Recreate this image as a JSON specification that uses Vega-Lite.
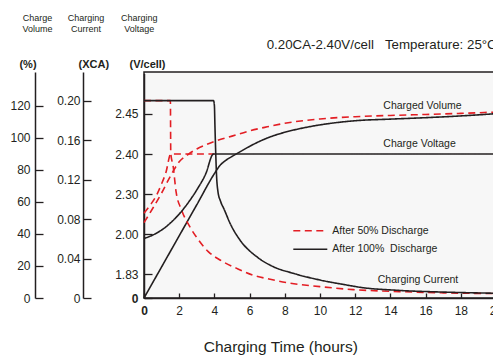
{
  "$schema": "https://vega.github.io/schema/vega-lite/v6.json",
  "width": 352,
  "height": 226,
  "autosize": {"type": "none"},
  "padding": {"left": 144, "top": 72, "right": 0, "bottom": 57},
  "background": "white",
  "config": {
    "view": {"stroke": "#231f20", "strokeWidth": 1.5, "fill": "#f7f7f7"},
    "font": "Liberation Sans",
    "axis": {
      "grid": false,
      "labelFont": "Liberation Sans",
      "titleFont": "Liberation Sans",
      "labelColor": "#231f20",
      "titleColor": "#231f20",
      "domainColor": "#231f20",
      "tickColor": "#231f20",
      "domainWidth": 1.5,
      "tickWidth": 1.3,
      "labelFlush": false,
      "labelOverlap": false
    }
  },
  "title": {
    "text": "0.20CA-2.40V/cell\u00a0\u00a0\u00a0Temperature: 25°C",
    "anchor": "start",
    "frame": "group",
    "dx": 122.7,
    "offset": 0,
    "dy": 49.5,
    "baseline": "alphabetic",
    "fontSize": 13.3,
    "fontWeight": "normal",
    "color": "#231f20",
    "font": "Liberation Sans"
  },
  "datasets": {
    "curves": [
      {"q": "volume", "d": "After 50% Discharge", "t": 0, "v": 47},
      {"q": "volume", "d": "After 50% Discharge", "t": 0.5, "v": 56},
      {"q": "volume", "d": "After 50% Discharge", "t": 1, "v": 65.5},
      {"q": "volume", "d": "After 50% Discharge", "t": 1.5, "v": 76},
      {"q": "volume", "d": "After 50% Discharge", "t": 2, "v": 85},
      {"q": "volume", "d": "After 50% Discharge", "t": 2.5, "v": 89.5},
      {"q": "volume", "d": "After 50% Discharge", "t": 3, "v": 93},
      {"q": "volume", "d": "After 50% Discharge", "t": 3.5, "v": 95.5},
      {"q": "volume", "d": "After 50% Discharge", "t": 4, "v": 97.7},
      {"q": "volume", "d": "After 50% Discharge", "t": 5, "v": 101},
      {"q": "volume", "d": "After 50% Discharge", "t": 6, "v": 104.3},
      {"q": "volume", "d": "After 50% Discharge", "t": 7, "v": 106.8},
      {"q": "volume", "d": "After 50% Discharge", "t": 8, "v": 109},
      {"q": "volume", "d": "After 50% Discharge", "t": 10, "v": 111.7},
      {"q": "volume", "d": "After 50% Discharge", "t": 12, "v": 113.1},
      {"q": "volume", "d": "After 50% Discharge", "t": 14, "v": 113.9},
      {"q": "volume", "d": "After 50% Discharge", "t": 16, "v": 114.5},
      {"q": "volume", "d": "After 50% Discharge", "t": 18, "v": 115.2},
      {"q": "volume", "d": "After 50% Discharge", "t": 20, "v": 116},
      {"q": "volume", "d": "After 100%\u00a0 Discharge", "t": 0, "v": 0},
      {"q": "volume", "d": "After 100%\u00a0 Discharge", "t": 1, "v": 19.4},
      {"q": "volume", "d": "After 100%\u00a0 Discharge", "t": 2, "v": 38.8},
      {"q": "volume", "d": "After 100%\u00a0 Discharge", "t": 3, "v": 58.2},
      {"q": "volume", "d": "After 100%\u00a0 Discharge", "t": 4, "v": 77.6},
      {"q": "volume", "d": "After 100%\u00a0 Discharge", "t": 4.3, "v": 82.5},
      {"q": "volume", "d": "After 100%\u00a0 Discharge", "t": 4.6, "v": 85.5},
      {"q": "volume", "d": "After 100%\u00a0 Discharge", "t": 5, "v": 88.3},
      {"q": "volume", "d": "After 100%\u00a0 Discharge", "t": 5.5, "v": 91.5},
      {"q": "volume", "d": "After 100%\u00a0 Discharge", "t": 6, "v": 94.6},
      {"q": "volume", "d": "After 100%\u00a0 Discharge", "t": 7, "v": 99.8},
      {"q": "volume", "d": "After 100%\u00a0 Discharge", "t": 8, "v": 103.4},
      {"q": "volume", "d": "After 100%\u00a0 Discharge", "t": 9, "v": 106},
      {"q": "volume", "d": "After 100%\u00a0 Discharge", "t": 10, "v": 108},
      {"q": "volume", "d": "After 100%\u00a0 Discharge", "t": 12, "v": 110.6},
      {"q": "volume", "d": "After 100%\u00a0 Discharge", "t": 14, "v": 111.6},
      {"q": "volume", "d": "After 100%\u00a0 Discharge", "t": 16, "v": 112.5},
      {"q": "volume", "d": "After 100%\u00a0 Discharge", "t": 18, "v": 113.6},
      {"q": "volume", "d": "After 100%\u00a0 Discharge", "t": 20, "v": 115},
      {"q": "current", "d": "After 50% Discharge", "t": 0, "v": 0.2},
      {"q": "current", "d": "After 50% Discharge", "t": 1.5, "v": 0.2},
      {"q": "current", "d": "After 50% Discharge", "t": 1.52, "v": 0.147},
      {"q": "current", "d": "After 50% Discharge", "t": 1.66, "v": 0.133},
      {"q": "current", "d": "After 50% Discharge", "t": 1.82, "v": 0.108},
      {"q": "current", "d": "After 50% Discharge", "t": 2.14, "v": 0.089},
      {"q": "current", "d": "After 50% Discharge", "t": 2.61, "v": 0.072},
      {"q": "current", "d": "After 50% Discharge", "t": 3.09, "v": 0.059},
      {"q": "current", "d": "After 50% Discharge", "t": 3.65, "v": 0.047},
      {"q": "current", "d": "After 50% Discharge", "t": 4.32, "v": 0.0385},
      {"q": "current", "d": "After 50% Discharge", "t": 5.27, "v": 0.03},
      {"q": "current", "d": "After 50% Discharge", "t": 6.21, "v": 0.023},
      {"q": "current", "d": "After 50% Discharge", "t": 7.16, "v": 0.019},
      {"q": "current", "d": "After 50% Discharge", "t": 8.11, "v": 0.0155},
      {"q": "current", "d": "After 50% Discharge", "t": 10, "v": 0.0115},
      {"q": "current", "d": "After 50% Discharge", "t": 11.9, "v": 0.0085},
      {"q": "current", "d": "After 50% Discharge", "t": 14.5, "v": 0.0065},
      {"q": "current", "d": "After 50% Discharge", "t": 17, "v": 0.0052},
      {"q": "current", "d": "After 50% Discharge", "t": 20, "v": 0.0045},
      {"q": "current", "d": "After 100%\u00a0 Discharge", "t": 0, "v": 0.2},
      {"q": "current", "d": "After 100%\u00a0 Discharge", "t": 3.95, "v": 0.2},
      {"q": "current", "d": "After 100%\u00a0 Discharge", "t": 4.0, "v": 0.195},
      {"q": "current", "d": "After 100%\u00a0 Discharge", "t": 4.03, "v": 0.175},
      {"q": "current", "d": "After 100%\u00a0 Discharge", "t": 4.07, "v": 0.15},
      {"q": "current", "d": "After 100%\u00a0 Discharge", "t": 4.12, "v": 0.125},
      {"q": "current", "d": "After 100%\u00a0 Discharge", "t": 4.2, "v": 0.108},
      {"q": "current", "d": "After 100%\u00a0 Discharge", "t": 4.35, "v": 0.098},
      {"q": "current", "d": "After 100%\u00a0 Discharge", "t": 4.55, "v": 0.09},
      {"q": "current", "d": "After 100%\u00a0 Discharge", "t": 4.89, "v": 0.0757},
      {"q": "current", "d": "After 100%\u00a0 Discharge", "t": 5.45, "v": 0.0588},
      {"q": "current", "d": "After 100%\u00a0 Discharge", "t": 6.4, "v": 0.0419},
      {"q": "current", "d": "After 100%\u00a0 Discharge", "t": 7.35, "v": 0.0317},
      {"q": "current", "d": "After 100%\u00a0 Discharge", "t": 8.48, "v": 0.025},
      {"q": "current", "d": "After 100%\u00a0 Discharge", "t": 10, "v": 0.0182},
      {"q": "current", "d": "After 100%\u00a0 Discharge", "t": 11.5, "v": 0.0132},
      {"q": "current", "d": "After 100%\u00a0 Discharge", "t": 12.3, "v": 0.0108},
      {"q": "current", "d": "After 100%\u00a0 Discharge", "t": 14.4, "v": 0.0078},
      {"q": "current", "d": "After 100%\u00a0 Discharge", "t": 17, "v": 0.006},
      {"q": "current", "d": "After 100%\u00a0 Discharge", "t": 20, "v": 0.0048},
      {"q": "voltage", "d": "After 50% Discharge", "t": 0, "v": 2.158},
      {"q": "voltage", "d": "After 50% Discharge", "t": 0.36, "v": 2.22},
      {"q": "voltage", "d": "After 50% Discharge", "t": 0.72, "v": 2.295},
      {"q": "voltage", "d": "After 50% Discharge", "t": 1.0, "v": 2.326},
      {"q": "voltage", "d": "After 50% Discharge", "t": 1.25, "v": 2.355},
      {"q": "voltage", "d": "After 50% Discharge", "t": 1.52, "v": 2.4},
      {"q": "voltage", "d": "After 50% Discharge", "t": 4, "v": 2.4},
      {"q": "voltage", "d": "After 100%\u00a0 Discharge", "t": 0, "v": 1.982},
      {"q": "voltage", "d": "After 100%\u00a0 Discharge", "t": 0.5, "v": 1.997},
      {"q": "voltage", "d": "After 100%\u00a0 Discharge", "t": 1, "v": 2.032},
      {"q": "voltage", "d": "After 100%\u00a0 Discharge", "t": 1.5, "v": 2.085},
      {"q": "voltage", "d": "After 100%\u00a0 Discharge", "t": 2, "v": 2.152},
      {"q": "voltage", "d": "After 100%\u00a0 Discharge", "t": 2.5, "v": 2.235},
      {"q": "voltage", "d": "After 100%\u00a0 Discharge", "t": 3, "v": 2.311},
      {"q": "voltage", "d": "After 100%\u00a0 Discharge", "t": 3.5, "v": 2.35},
      {"q": "voltage", "d": "After 100%\u00a0 Discharge", "t": 3.95, "v": 2.4},
      {"q": "voltage", "d": "After 100%\u00a0 Discharge", "t": 20, "v": 2.4}
    ],
    "notes": [
      {"label": "Charged Volume", "t": 13.6, "v": 119.8},
      {"label": "Charge Voltage", "t": 13.6, "v": 95.9},
      {"label": "Charging Current", "t": 13.28, "v": 11.2}
    ]
  },
  "data": {"name": "curves"},
  "encoding": {
    "x": {
      "field": "t",
      "type": "quantitative",
      "scale": {"domain": [0, 20], "nice": false, "zero": false},
      "axis": {
        "orient": "bottom",
        "values": [0, 2, 4, 6, 8, 10, 12, 14, 16, 18, 20],
        "tickSize": -5,
        "labelPadding": 12.8,
        "labelFontSize": 12,
        "labelBaseline": "top",
        "labelFontWeight": {"condition": {"test": "datum.value === 0", "value": "bold"}, "value": "normal"},
        "title": "Charging Time (hours)",
        "titleFontSize": 15.5,
        "titleFontWeight": "normal",
        "titleX": 136.3,
        "titleY": 41.5,
        "titleAlign": "center",
        "titleBaseline": "top"
      }
    }
  },
  "layer": [
    {
      "layer": [
        {
          "transform": [{"filter": "datum.q === 'volume' && datum.d === 'After 50% Discharge'"}],
          "mark": {"type": "line", "strokeWidth": 1.6, "interpolate": "monotone"},
          "encoding": {
            "y": {
              "field": "v", "type": "quantitative",
              "scale": {"domain": [0, 141], "nice": false, "zero": false},
              "axis": {
                "orient": "left", "offset": 109,
                "values": [0, 20, 40, 60, 80, 100, 120],
                "tickSize": -8, "labelPadding": 13, "labelFontSize": 12,
                "title": "(%)", "titleAngle": 0, "titleX": -7.5, "titleY": -8,
                "titleAlign": "center", "titleBaseline": "middle",
                "titleFontSize": 11, "titleFontWeight": "bold"
              }
            },
            "color": {"field": "d", "type": "nominal",
              "scale": {"domain": ["After 50% Discharge", "After 100%\u00a0 Discharge"], "range": ["#e31e24", "#231f20"]},
              "legend": {"title": null, "orient": "none", "legendX": 148.3, "legendY": 152.7, "symbolType": "stroke", "symbolSize": 1156, "symbolStrokeWidth": 1.6, "clipHeight": 12, "rowPadding": 6.6, "labelOffset": 4, "labelFontSize": 10.5, "labelColor": "#231f20", "labelFont": "Liberation Sans", "padding": 0, "labelLimit": 0}},
            "strokeDash": {"field": "d", "type": "nominal",
              "scale": {"domain": ["After 50% Discharge", "After 100%\u00a0 Discharge"], "range": [[7, 4.5], [1, 0]]},
              "legend": {"title": null, "orient": "none", "legendX": 148.3, "legendY": 152.7, "symbolType": "stroke", "symbolSize": 1156, "symbolStrokeWidth": 1.6, "clipHeight": 12, "rowPadding": 6.6, "labelOffset": 4, "labelFontSize": 10.5, "labelColor": "#231f20", "labelFont": "Liberation Sans", "padding": 0, "labelLimit": 0}}
          }
        },
        {
          "transform": [{"filter": "datum.q === 'volume' && datum.d !== 'After 50% Discharge'"}],
          "mark": {"type": "line", "strokeWidth": 1.6, "interpolate": "monotone"},
          "encoding": {
            "y": {
              "field": "v", "type": "quantitative",
              "axis": {
                "orient": "left", "offset": 109,
                "domain": false, "ticks": false, "labels": false,
                "title": ["Charge", "Volume"], "titleAngle": 0, "titleX": 2, "titleY": -59,
                "titleAlign": "center", "titleBaseline": "top", "titleLineHeight": 11,
                "titleFontSize": 9, "titleFontWeight": "normal"
              }
            },
            "color": {"field": "d", "type": "nominal"},
            "strokeDash": {"field": "d", "type": "nominal"}
          }
        },
        {
          "data": {"name": "notes"},
          "mark": {"type": "text", "align": "left", "baseline": "middle", "fontSize": 10.5, "color": "#231f20", "font": "Liberation Sans"},
          "encoding": {
            "y": {"field": "v", "type": "quantitative", "axis": null},
            "text": {"field": "label", "type": "nominal"}
          }
        }
      ],
      "resolve": {"scale": {"y": "shared"}, "axis": {"y": "independent"}}
    },
    {
      "layer": [
        {
          "transform": [{"filter": "datum.q === 'current' && datum.d === 'After 50% Discharge'"}],
          "mark": {"type": "line", "strokeWidth": 1.6, "interpolate": "monotone"},
          "encoding": {
            "y": {
              "field": "v", "type": "quantitative",
              "scale": {"domain": [0, 0.229], "nice": false, "zero": false},
              "axis": {
                "orient": "left", "offset": 61,
                "values": [0, 0.04, 0.08, 0.12, 0.16, 0.2],
                "labelExpr": "datum.value == 0 ? '0' : format(datum.value, '.2f')",
                "tickSize": -8, "labelPadding": 11, "labelFontSize": 12,
                "title": "(XCA)", "titleAngle": 0, "titleX": 10.3, "titleY": -8,
                "titleAlign": "center", "titleBaseline": "middle",
                "titleFontSize": 11, "titleFontWeight": "bold"
              }
            },
            "color": {"field": "d", "type": "nominal"},
            "strokeDash": {"field": "d", "type": "nominal"}
          }
        },
        {
          "transform": [{"filter": "datum.q === 'current' && datum.d !== 'After 50% Discharge'"}],
          "mark": {"type": "line", "strokeWidth": 1.6, "interpolate": "monotone"},
          "encoding": {
            "y": {
              "field": "v", "type": "quantitative",
              "axis": {
                "orient": "left", "offset": 61,
                "domain": false, "ticks": false, "labels": false,
                "title": ["Charging", "Current"], "titleAngle": 0, "titleX": 2.5, "titleY": -59,
                "titleAlign": "center", "titleBaseline": "top", "titleLineHeight": 11,
                "titleFontSize": 9, "titleFontWeight": "normal"
              }
            },
            "color": {"field": "d", "type": "nominal"},
            "strokeDash": {"field": "d", "type": "nominal"}
          }
        }
      ],
      "resolve": {"scale": {"y": "shared"}, "axis": {"y": "independent"}}
    },
    {
      "layer": [
        {
          "transform": [{"filter": "datum.q === 'voltage' && datum.d === 'After 50% Discharge'"}],
          "mark": {"type": "line", "strokeWidth": 1.6, "interpolate": "monotone"},
          "encoding": {
            "y": {
              "field": "v", "type": "quantitative",
              "scale": {"domain": [0, 1.83, 2.0, 2.3, 2.4, 2.45, 2.5], "range": [226, 202.3, 162.3, 122.3, 82, 41.7, 1.4], "nice": false, "zero": false},
              "axis": {
                "orient": "left", "offset": 0,
                "values": [0, 1.83, 2.0, 2.3, 2.4, 2.45],
                "labelExpr": "datum.value == 0 ? '0' : format(datum.value, '.2f')",
                "labelFontWeight": {"condition": {"test": "datum.value === 0", "value": "bold"}, "value": "normal"},
                "tickSize": -8, "labelPadding": 14, "labelFontSize": 12,
                "title": "(V/cell)", "titleAngle": 0, "titleX": 3, "titleY": -8,
                "titleAlign": "center", "titleBaseline": "middle",
                "titleFontSize": 11, "titleFontWeight": "bold"
              }
            },
            "color": {"field": "d", "type": "nominal"},
            "strokeDash": {"field": "d", "type": "nominal"}
          }
        },
        {
          "transform": [{"filter": "datum.q === 'voltage' && datum.d !== 'After 50% Discharge'"}],
          "mark": {"type": "line", "strokeWidth": 1.6, "interpolate": "monotone"},
          "encoding": {
            "y": {
              "field": "v", "type": "quantitative",
              "axis": {
                "orient": "left", "offset": 0,
                "domain": false, "ticks": false, "labels": false,
                "title": ["Charging", "Voltage"], "titleAngle": 0, "titleX": -5.3, "titleY": -59,
                "titleAlign": "center", "titleBaseline": "top", "titleLineHeight": 11,
                "titleFontSize": 9, "titleFontWeight": "normal"
              }
            },
            "color": {"field": "d", "type": "nominal"},
            "strokeDash": {"field": "d", "type": "nominal"}
          }
        }
      ],
      "resolve": {"scale": {"y": "shared"}, "axis": {"y": "independent"}}
    }
  ],
  "resolve": {"scale": {"y": "independent"}, "axis": {"y": "independent"}}
}
